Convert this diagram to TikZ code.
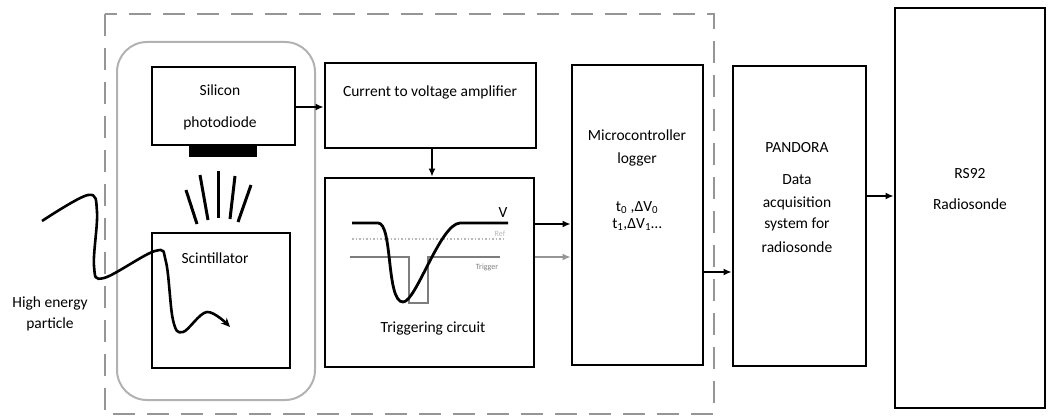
\documentclass[tikz,border=0pt]{standalone}
\usepackage{fontspec}
\setmainfont{Carlito}
\usetikzlibrary{arrows.meta}
\definecolor{frame}{RGB}{150,150,150}
\definecolor{group}{RGB}{178,178,178}
\definecolor{trig}{RGB}{125,125,125}
\definecolor{refc}{RGB}{185,185,185}

\begin{document}
\begin{tikzpicture} [x=1pt, y=-1pt,
box/.style = {shape=rectangle, draw, line width=2.8pt, inner sep=0pt},
txt/.style = {font=\fontsize{15.5}{18}\selectfont, inner sep=0pt, anchor=base},
tiny/.style = {font=\fontsize{8}{9}\selectfont, inner sep=0pt, anchor=base, text=trig},
arr/.style = {line width=2.2pt, -{Latex[length=8pt,width=7pt]}}]
\useasboundingbox (0,0) rectangle (1049,417);
\draw [frame, line width=2.6pt, dash pattern=on 22pt off 12pt] (105,14) rectangle (714,414);
\draw [group, line width=2pt, rounded corners=30pt] (117,42) rectangle (315,400);

\node (pd) [box, minimum width=143pt, minimum height=78pt] at (223.5,106) {};
\node (bar) [fill=black, inner sep=0pt, minimum width=68pt, minimum height=11pt] at (223,151.5) {};
\node (sc) [box, minimum width=138pt, minimum height=135pt] at (221,300.5) {};
\node (amp) [box, minimum width=211pt, minimum height=85pt] at (430.5,105.5) {};
\node (trg) [box, minimum width=209pt, minimum height=189pt] at (429.5,272.5) {};
\node (mcu) [box, minimum width=131pt, minimum height=300pt] at (637.5,215) {};
\node (pan) [box, minimum width=133pt, minimum height=300pt] at (799.5,216) {};
\node (rs) [box, minimum width=150pt, minimum height=400pt] at (970,208) {};

\node [txt] at (220,96) {Silicon};
\node [txt] at (220,128) {photodiode};
\node [txt] at (215,263) {Scintillator};
\node [txt] at (50,307) {High energy};
\node [txt] at (50,328) {particle};
\node [txt] at (430,97) {Current to voltage amplifier};
\node [txt] at (433,332) {Triggering circuit};
\node [txt] at (637,141) {Microcontroller};
\node [txt] at (637,163) {logger};
\node [txt] at (637,211) {t\textsubscript{0} ,ΔV\textsubscript{0}};
\node [txt] at (637,228) {t\textsubscript{1},ΔV\textsubscript{1}…};
\node [txt] at (797,152) {PANDORA};
\node [txt] at (797,184) {Data};
\node [txt] at (797,207) {acquisition};
\node [txt] at (797,228) {system for};
\node [txt] at (797,252) {radiosonde};
\node [txt] at (970,178) {RS92};
\node [txt] at (970,209) {Radiosonde};

\foreach \a/\b/\c/\d in {186/190/197/224, 200/175/208/220, 218/171/218/218, 235/176/230/219, 251/185/238/222}
\draw [line width=3pt] (\a,\b) -- (\c,\d);

\draw [refc, line width=1.5pt, dotted] (352,239) -- (506,239);
\draw [trig, line width=2pt] (350,257) -- (409,257) -- (409,303) -- (428,303) -- (428,257) -- (500,257);
\draw [line width=2.8pt] (352,223) -- (378,223) .. controls (393,223) and (386,302) .. (403,302)
.. controls (416,302) and (440,224) .. (460,223) -- (508,223);
\node [txt] at (503,217) {V};
\node [tiny, text=refc] at (500,236) {Ref};
\node [tiny] at (487,269) {Trigger};

\draw [line width=2.6pt, -{Stealth[length=9pt,width=8pt]}] plot [smooth, tension=.6] coordinates
{(42,221) (88,195) (97,212) (94,266) (104,278) (155,251) (166,262) (173,320) (183,332) (207,312) (230,327)};

\draw [arr] (pd.east |- 0,107) -- (amp.west |- 0,107);
\draw [arr] (amp.south -| 432,0) -- (trg.north -| 432,0);
\draw [arr] (trg.east |- 0,224) -- (mcu.west |- 0,224);
\draw [arr, frame] (trg.east |- 0,257) -- (mcu.west |- 0,257);
\draw [arr] (mcu.east |- 0,272) -- (pan.west |- 0,272);
\draw [arr] (pan.east |- 0,196) -- (rs.west |- 0,196);
\end{tikzpicture}
\end{document}
